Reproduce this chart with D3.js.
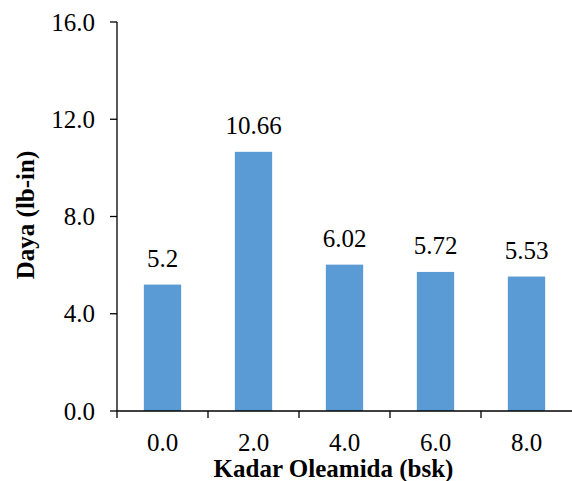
<!DOCTYPE html>
<html><head><meta charset="utf-8">
<script src="https://cdn.jsdelivr.net/npm/d3@7"></script>
<style>body{margin:0;background:#fff}svg{display:block}</style>
</head><body>
<svg id="c" width="572" height="481"></svg>
<script>
const categories = ["0.0","2.0","4.0","6.0","8.0"];
const values = [5.2, 10.66, 6.02, 5.72, 5.53];
const valueLabels = ["5.2","10.66","6.02","5.72","5.53"];
const yTicks = [0,4,8,12,16];
const yTitle = "Daya (lb-in)";
const xTitle = "Kadar Oleamida (bsk)";

const FONT = "Liberation Serif";
const svg = d3.select("#c");
const x = d3.scaleBand().domain(categories).range([117,572]).padding(0);
const y = d3.scaleLinear().domain([0,16]).range([411,22]);
const barFrac = 0.41;
const fmt = d3.format(".1f");

// bars
svg.append("g").selectAll("rect").data(values).join("rect")
  .attr("x",(d,i)=>x(categories[i]) + x.bandwidth()*(1-barFrac)/2)
  .attr("width",x.bandwidth()*barFrac)
  .attr("y",d=>y(d)).attr("height",d=>y(0)-y(d))
  .attr("fill","#5B9BD5");

// y axis
const ya = svg.append("g");
ya.append("line").attr("x1",117).attr("x2",117).attr("y1",y(16)).attr("y2",y(0)).attr("stroke","#000").attr("stroke-width",1.3);
ya.selectAll("line.t").data(yTicks).join("line").attr("class","t")
  .attr("x1",110).attr("x2",117).attr("y1",d=>y(d)).attr("y2",d=>y(d)).attr("stroke","#000").attr("stroke-width",1.3);
ya.selectAll("text").data(yTicks).join("text")
  .attr("x",95).attr("y",d=>y(d)).attr("dy","0.34em").attr("text-anchor","end")
  .attr("font-family",FONT).attr("font-size",25).attr("fill","#000").text(d=>fmt(d));

// x axis
const xa = svg.append("g");
xa.append("line").attr("x1",117).attr("x2",572).attr("y1",y(0)).attr("y2",y(0)).attr("stroke","#000").attr("stroke-width",1.3);
xa.selectAll("line.t").data(categories).join("line").attr("class","t")
  .attr("x1",d=>x(d)).attr("x2",d=>x(d)).attr("y1",y(0)).attr("y2",y(0)+7).attr("stroke","#000").attr("stroke-width",1.3);
xa.selectAll("text").data(categories).join("text")
  .attr("x",d=>x(d)+x.bandwidth()/2).attr("y",y(0)+40).attr("text-anchor","middle")
  .attr("font-family",FONT).attr("font-size",25).attr("fill","#000").text(d=>d);

// value labels
svg.append("g").selectAll("text").data(values).join("text")
  .attr("x",(d,i)=>x(categories[i])+x.bandwidth()/2)
  .attr("y",d=>y(d)-17.5)
  .attr("text-anchor","middle").attr("font-family",FONT).attr("font-size",25).attr("fill","#000")
  .text((d,i)=>valueLabels[i]);

// titles
svg.append("text").attr("x",333.5).attr("y",477).attr("text-anchor","middle")
  .attr("font-family",FONT).attr("font-size",25).attr("font-weight","bold").attr("fill","#000").text(xTitle);
svg.append("text").attr("transform","translate(34,215) rotate(-90)").attr("text-anchor","middle")
  .attr("font-family",FONT).attr("font-size",25).attr("font-weight","bold").attr("fill","#000").text(yTitle);
</script>
</body></html>
